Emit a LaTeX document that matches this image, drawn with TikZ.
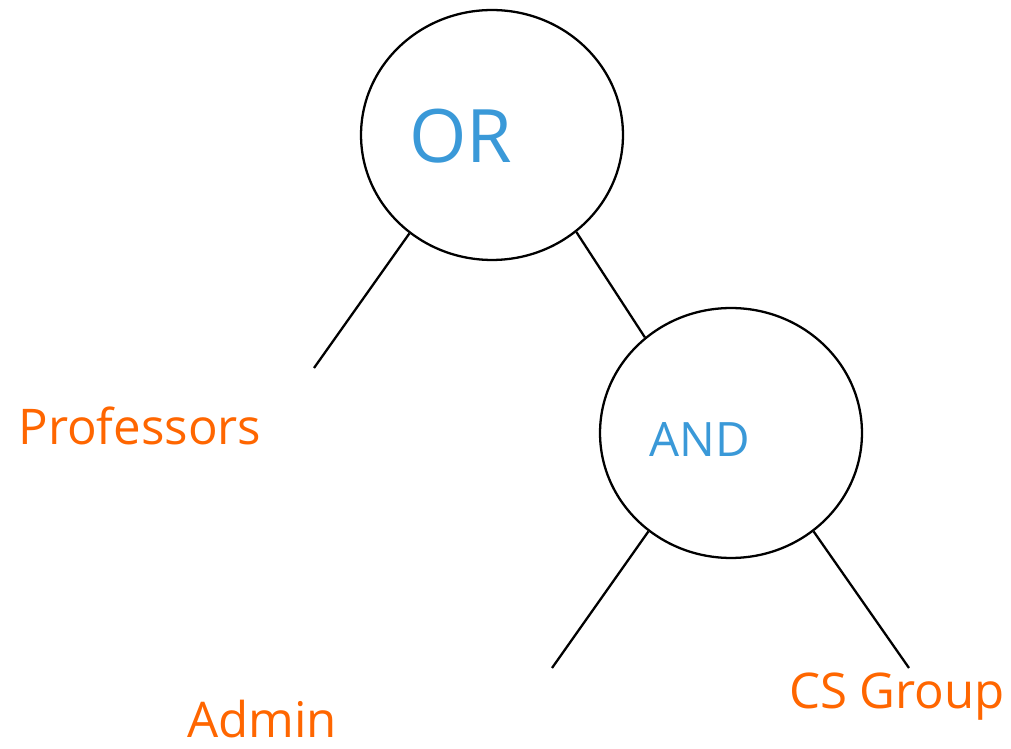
\documentclass[tikz,border=0pt]{standalone}
\usepackage{fontspec}
\setmainfont{Open Sans}
\usetikzlibrary{shapes.geometric}
\definecolor{opblue}{HTML}{3A99D8}
\definecolor{leaforange}{HTML}{FF6600}
\begin{document}
\begin{tikzpicture}[x=0.02cm, y=-0.02cm,
    opnode/.style={ellipse,draw,line width=1.3pt,minimum width=5.24cm,minimum height=5cm},
    leaf/.style={text=leaforange,font=\fontsize{28}{30}\selectfont,anchor=base,inner sep=0pt}]
        \useasboundingbox (0,0) rectangle (1011,749);

        \node[opnode] (or) at (492,135) {};
        \node[opnode] (and) at (731,433) {};
        \node[text=opblue,font=\fontsize{42}{44}\selectfont,anchor=base] (orlabel) at (461,163) {OR};
        \node[text=opblue,font=\fontsize{27}{29}\selectfont,anchor=base] (andlabel) at (700,457) {AND};

        \node[leaf] (prof) at (140,445) {Professors};
        \node[leaf] (admin) at (262,737) {Admin};
        \node[leaf] (cs) at (897,708) {CS Group};

        \coordinate (profend) at (314,368);
        \coordinate (adminend) at (552,668);
        \coordinate (csend) at (909,668);

        \draw[line width=1.3pt] (or.230) -- (profend);
        \draw[line width=1.3pt] (or.311) -- (and.132);
        \draw[line width=1.3pt] (and.230) -- (adminend);
        \draw[line width=1.3pt] (and.310) -- (csend);
\end{tikzpicture}
\end{document}
